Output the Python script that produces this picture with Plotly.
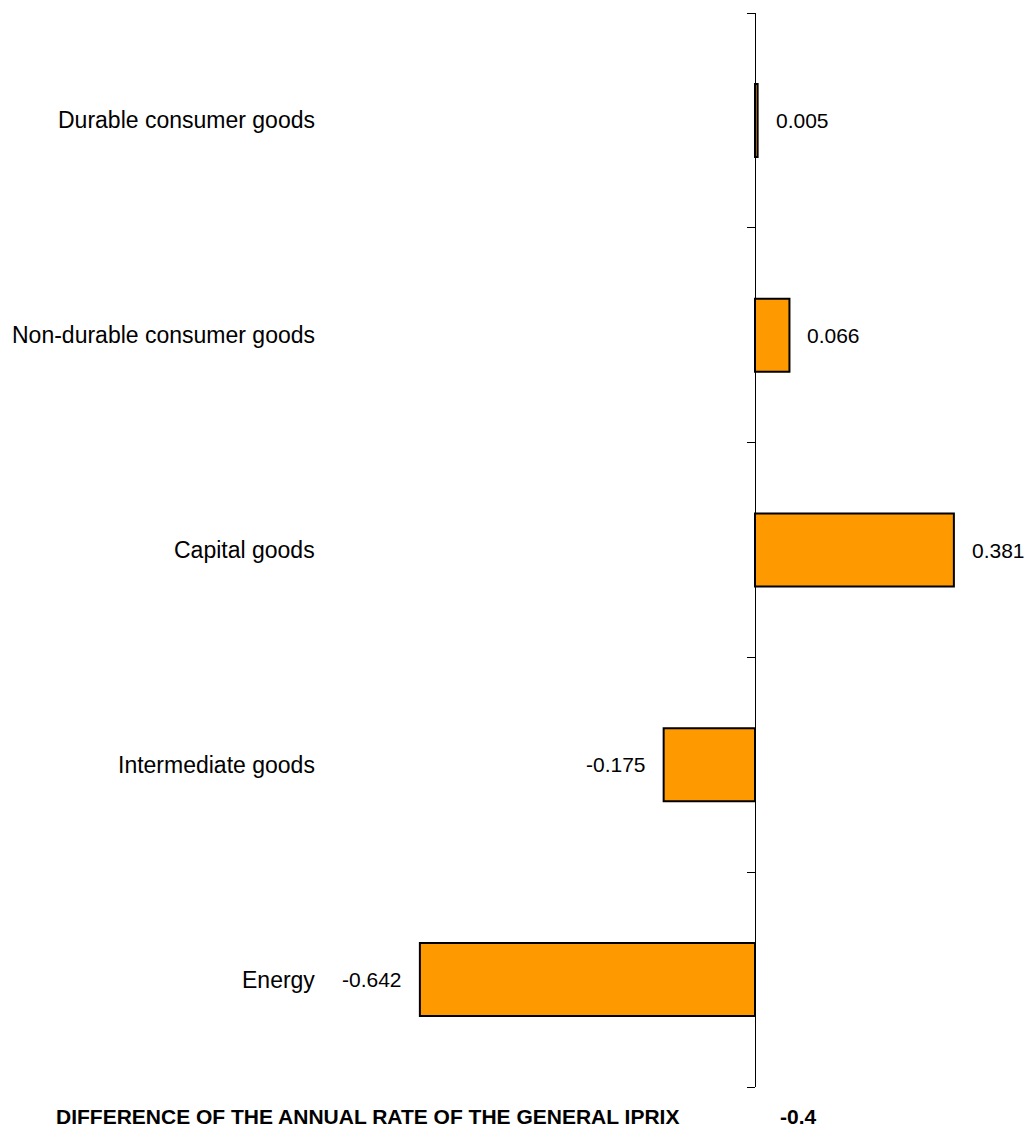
import plotly.graph_objects as go

# Data (top-to-bottom as displayed)
categories = ["Durable consumer goods", "Non-durable consumer goods", "Capital goods",
              "Intermediate goods", "Energy"]
values = [0.005, 0.066, 0.381, -0.175, -0.642]
value_labels = ["0.005", "0.066", "0.381", "-0.175", "-0.642"]
footer_title = "DIFFERENCE OF THE ANNUAL RATE OF THE GENERAL IPRIX"
footer_value = "-0.4"

n = len(categories)
ypos = [n - 1 - i for i in range(n)]  # top category highest
boundaries = [i - 0.5 for i in range(n + 1)]

W, H = 1026, 1129
ML, MR, MT, MB = 325, 0, 13, 42
plot_w = W - ML - MR
zero_px = 755 - ML
px_per_unit = 522.0
xr = [-zero_px / px_per_unit, (plot_w - zero_px) / px_per_unit]

FONT = "Liberation Sans, Arial, sans-serif"

fig = go.Figure()
fig.add_trace(go.Bar(
    x=values, y=ypos, orientation="h", width=0.34,
    marker=dict(color="#FF9900", line=dict(color="black", width=2)),
    hoverinfo="skip", showlegend=False,
))

annotations = []
for cat, y in zip(categories, ypos):
    annotations.append(dict(
        text=cat, xref="paper", x=0, yref="y", y=y,
        xanchor="right", yanchor="middle", xshift=-8, showarrow=False,
        font=dict(family=FONT, size=23, color="black")))
for v, lab, y in zip(values, value_labels, ypos):
    annotations.append(dict(
        text=lab, xref="x", x=v, yref="y", y=y,
        xanchor="left" if v >= 0 else "right", yanchor="middle",
        xshift=16 if v >= 0 else -16, showarrow=False,
        font=dict(family=FONT, size=21, color="black")))
annotations.append(dict(
    text="<b>" + footer_title + "</b>", xref="paper", x=0, yref="paper", y=0,
    xanchor="left", yanchor="middle", xshift=54 - ML, yshift=-29, showarrow=False,
    font=dict(family=FONT, size=21, color="black")))
annotations.append(dict(
    text="<b>" + footer_value + "</b>", xref="paper", x=(798 - ML) / plot_w, yref="paper", y=0,
    xanchor="center", yanchor="middle", yshift=-29, showarrow=False,
    font=dict(family=FONT, size=21, color="black")))

fig.update_layout(
    width=W, height=H,
    margin=dict(l=ML, r=MR, t=MT, b=MB, pad=0),
    paper_bgcolor="white", plot_bgcolor="white",
    xaxis=dict(range=xr, showgrid=False, zeroline=False, showline=False,
               showticklabels=False, ticks=""),
    yaxis=dict(range=[-0.5, n - 0.5], anchor="free", position=zero_px / plot_w,
               showgrid=False, zeroline=False, showline=True, linecolor="black",
               linewidth=1, ticks="outside", ticklen=8, tickcolor="black",
               tickwidth=1, tickvals=boundaries, showticklabels=False),
    annotations=annotations,
)

fig.write_html("out.html")
